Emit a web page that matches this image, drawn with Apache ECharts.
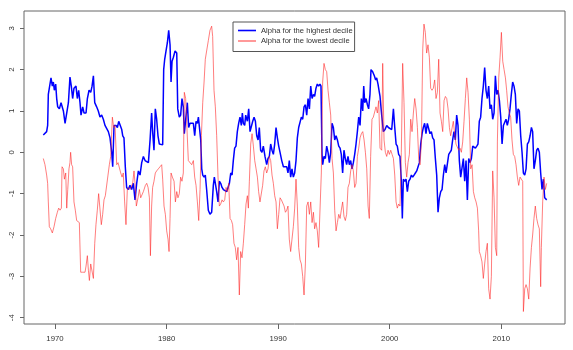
<!DOCTYPE html>
<html>
<head>
<meta charset="utf-8">
<script src="https://cdn.jsdelivr.net/npm/echarts@6/dist/echarts.min.js"></script>
<style>
html,body{margin:0;padding:0;background:#fff;}
#c{width:573px;height:350px;}
</style>
</head>
<body>
<div id="c"></div>
<script>
const seriesNames = ['Alpha for the highest decile', 'Alpha for the lowest decile'];
const xTicks = [1970, 1980, 1990, 2000, 2010];
const yTicks = [-4, -3, -2, -1, 0, 1, 2, 3];

const highYears = [
1968.95,1969.10,1969.25,1969.34,1969.40,1969.55,1969.64,1969.76,1969.85,1969.94,
1970.06,1970.15,1970.24,1970.39,1970.54,1970.75,1970.90,1971.05,1971.20,1971.34,
1971.46,1971.58,1971.70,1971.88,1972.00,1972.12,1972.24,1972.33,1972.48,1972.60,
1972.78,1972.90,1973.05,1973.20,1973.32,1973.44,1973.56,1973.73,1973.88,1974.03,
1974.18,1974.33,1974.48,1974.63,1974.78,1974.93,1975.08,1975.17,1975.29,1975.47,
1975.59,1975.71,1975.83,1975.98,1976.07,1976.18,1976.30,1976.42,1976.57,1976.72,
1976.87,1977.02,1977.17,1977.32,1977.47,1977.62,1977.77,1977.92,1978.07,1978.22,
1978.37,1978.52,1978.66,1978.75,1978.87,1978.99,1979.11,1979.23,1979.35,1979.50,
1979.65,1979.74,1979.83,1979.95,1980.07,1980.19,1980.31,1980.40,1980.49,1980.61,
1980.76,1980.91,1981.00,1981.14,1981.26,1981.38,1981.50,1981.59,1981.71,1981.86,
1981.98,
1982.10,1982.40,1982.52,1982.64,1982.76,1982.85,1982.94,1983.06,1983.15,1983.24,
1983.36,1983.47,1983.59,1983.74,1983.89,1984.04,1984.19,1984.28,1984.37,1984.49,
1984.61,1984.73,1984.85,1984.97,1985.09,1985.24,1985.39,1985.51,1985.63,1985.75,
1985.87,1985.98,1986.10,1986.22,1986.34,1986.46,1986.58,1986.70,1986.79,1986.88,
1987.00,1987.09,1987.24,1987.36,1987.48,1987.60,1987.72,1987.84,1987.96,1988.08,
1988.20,1988.31,1988.43,1988.55,1988.67,1988.82,1988.97,1989.09,1989.21,1989.33,
1989.45,1989.57,1989.69,1989.81,1989.93,1990.05,1990.17,1990.32,1990.47,1990.62,
1990.77,1990.88,1991.00,1991.12,1991.24,1991.36,1991.48,1991.60,1991.72,1991.84,
1991.96,1992.08,1992.20,1992.32,1992.44,1992.56,1992.68,1992.80,1992.92,1993.04,
1993.16,1993.27,1993.39,1993.51,1993.63,1993.75,1993.84,1993.93,1993.99,1994.11,
1994.23,1994.35,1994.47,1994.59,1994.71,1994.83,1994.95,1995.07,1995.19,1995.31,
1995.43,1995.55,1995.66,1995.78,1995.90,1996.02,1996.14,1996.26,1996.38,1996.50,
1996.62,1996.74,1996.86,1996.98,1997.10,1997.22,1997.34,1997.46,1997.58,1997.67,
1997.76,1997.88,1998.00,1998.11,1998.23,1998.32,1998.47,1998.62,1998.74,1998.83,
1998.95,1999.07,
1999.13,1999.28,1999.43,1999.58,1999.73,1999.88,2000.03,2000.18,2000.33,2000.45,
2000.57,2000.68,2000.80,2000.92,2001.04,2001.13,2001.22,2001.34,2001.46,2001.58,
2001.70,2001.82,2001.94,2002.06,2002.18,2002.30,2002.42,2002.54,2002.66,2002.78,
2002.90,2003.01,2003.13,2003.25,2003.37,2003.49,2003.61,2003.73,2003.85,2003.97,
2004.09,2004.21,2004.33,2004.45,2004.57,2004.69,2004.81,2004.93,2005.05,2005.17,
2005.29,2005.40,2005.52,2005.64,2005.76,2005.88,2006.00,2006.12,2006.24,2006.36,
2006.48,2006.60,2006.72,2006.84,2006.96,2007.08,2007.20,2007.32,2007.44,2007.56,
2007.68,2007.80,2007.91,2008.03,2008.15,2008.27,2008.39,2008.51,2008.63,2008.75,
2008.87,2008.99,2009.11,2009.23,2009.35,2009.47,2009.59,2009.71,2009.83,2009.95,
2010.07,2010.19,2010.31,2010.42,2010.54,2010.66,2010.78,2010.90,2011.02,2011.14,
2011.26,2011.38,2011.50,2011.62,2011.74,2011.86,2011.98,2012.10,2012.22,2012.34,
2012.46,2012.58,2012.70,2012.81,2012.93,2013.05,2013.17,2013.29,2013.41,2013.53,
2013.65,2013.77,2013.89,2014.07
];
const highAlpha = [
0.42,0.38,0.50,0.65,1.40,1.42,1.80,1.60,1.70,1.50,
1.65,1.30,1.10,1.05,1.20,1.00,0.70,0.72,1.20,1.82,
1.60,1.30,1.55,1.60,1.30,1.50,1.20,0.90,1.10,0.95,
0.95,1.30,1.50,1.45,1.60,1.85,1.20,1.10,1.00,0.85,
0.90,0.80,0.65,0.65,0.50,0.35,0.00,-0.35,0.65,0.65,
0.60,0.75,0.78,0.55,0.40,0.35,-0.35,-0.85,-0.90,-0.80,
-0.90,-0.75,-1.15,-0.75,-0.45,-0.55,-0.25,-0.10,-0.20,-0.22,
-0.25,0.30,0.95,0.50,0.05,1.05,0.80,0.40,0.20,0.20,
0.18,2.00,2.25,2.45,2.65,2.95,2.60,1.70,2.20,2.30,
2.45,2.40,1.05,0.85,0.90,1.30,1.10,0.45,0.45,1.20,
0.60,
0.70,0.70,0.40,0.75,0.70,0.85,0.85,0.30,-0.40,-0.55,
-0.60,-0.55,-0.90,-1.40,-1.50,-1.45,-0.80,-0.60,-0.60,-0.95,
-1.20,-0.70,-0.75,-0.85,-0.90,-0.90,-0.95,-0.85,-0.75,-0.50,
-0.55,-0.20,0.10,0.15,0.50,0.70,0.85,0.65,0.95,0.70,
0.65,0.90,0.75,1.05,0.50,0.50,0.75,0.85,0.75,0.40,
0.30,0.60,0.05,0.00,0.15,-0.10,-0.30,-0.15,-0.10,0.20,
0.05,-0.05,0.20,0.60,0.35,0.15,0.00,-0.20,-0.35,-0.35,
-0.35,-0.50,-0.20,-0.60,-0.40,-0.60,-0.50,-0.20,0.35,0.60,
0.60,0.85,0.80,1.10,1.15,0.90,1.30,1.05,1.60,1.30,
1.40,1.35,1.55,1.65,1.60,1.65,1.60,-0.05,-0.30,-0.10,
-0.15,0.15,0.00,-0.25,0.00,0.70,0.60,0.30,0.40,0.30,
0.15,0.10,-0.05,-0.50,0.05,-0.15,-0.30,-0.10,-0.30,-0.20,
-0.40,-0.25,-0.05,0.20,0.50,0.85,0.65,1.30,1.00,1.60,
1.20,1.30,1.15,1.05,1.40,2.00,1.95,1.85,1.75,1.80,
1.65,1.45,
1.35,0.90,0.50,0.55,0.65,0.60,0.60,0.55,1.05,0.60,
0.20,0.15,-0.05,-0.10,-0.70,-1.60,-0.65,-0.70,-0.65,-0.95,
-0.70,-0.65,-0.55,-0.60,-0.55,-0.50,-0.45,-0.35,-0.25,0.20,
0.45,0.60,0.70,0.45,0.70,0.70,0.45,0.50,0.35,0.30,
-0.15,-0.55,-1.45,-1.10,-0.95,-0.90,-0.55,-0.30,-0.50,-0.50,
-0.05,0.00,0.05,0.30,0.50,0.30,0.90,0.65,-0.20,-0.60,
-0.60,-0.15,-0.70,-0.20,-1.15,-0.15,-0.25,-0.15,0.15,0.15,
0.10,0.15,0.20,0.75,0.85,1.30,1.60,2.05,1.50,1.30,
1.60,1.05,1.15,0.80,0.95,1.85,1.40,1.50,1.25,0.85,
0.20,0.65,0.65,0.80,0.65,0.80,1.05,1.40,1.70,1.60,
1.40,0.70,1.05,1.00,0.40,0.00,-0.50,-0.55,-0.40,0.20,
0.25,0.40,0.60,0.50,-0.40,-0.20,0.05,0.10,0.00,-0.50,
-0.90,-0.65,-1.10,-1.15
];

const lowYears = [
1968.95,1969.10,1969.25,1969.34,1969.40,1969.49,1969.61,1969.76,1969.91,1970.06,
1970.21,1970.33,1970.45,1970.57,1970.63,1970.75,1970.84,1970.96,1971.05,1971.14,
1971.25,1971.34,1971.40,1971.49,1971.58,1971.70,1971.82,1971.94,1972.09,1972.18,
1972.30,1972.48,1972.69,1972.78,1972.90,1972.99,1973.08,1973.20,1973.32,1973.44,
1973.56,1973.67,1973.79,1973.91,1974.03,1974.15,1974.27,1974.39,1974.51,1974.63,
1974.75,1974.87,1974.99,1975.14,1975.26,1975.38,1975.53,1975.65,1975.77,1975.89,
1976.01,1976.12,1976.24,1976.36,1976.48,1976.60,1976.72,1976.84,1976.96,1977.08,
1977.17,1977.29,1977.44,1977.56,1977.68,1977.80,1977.92,1978.10,1978.22,1978.34,
1978.46,1978.55,1978.66,1978.75,1978.87,1978.99,1979.11,1979.26,1979.41,1979.56,
1979.65,1979.77,1979.89,1980.01,1980.13,1980.22,1980.31,1980.40,1980.52,1980.67,
1980.79,1980.91,1981.02,1981.14,1981.26,1981.38,1981.50,1981.59,1981.71,1981.80,
1981.95,
1982.10,1982.25,1982.40,1982.52,1982.64,1982.76,1982.88,1983.00,1983.12,1983.24,
1983.36,1983.47,1983.59,1983.74,1983.89,1984.04,1984.13,1984.25,1984.37,1984.49,
1984.61,1984.73,1984.85,1984.97,1985.09,1985.21,1985.33,1985.45,1985.57,1985.69,
1985.81,1985.92,1986.04,1986.16,1986.28,1986.40,1986.52,1986.64,1986.76,1986.88,
1987.00,1987.12,1987.24,1987.33,1987.42,1987.54,1987.66,1987.78,1987.90,1988.02,
1988.14,1988.25,1988.37,1988.49,1988.61,1988.73,1988.85,1988.97,1989.09,1989.21,
1989.33,1989.45,1989.57,1989.69,1989.81,1989.93,1990.05,1990.17,1990.29,1990.41,
1990.53,1990.65,1990.77,1990.88,1991.00,1991.12,1991.24,1991.36,1991.48,1991.60,
1991.72,1991.84,1991.96,1992.08,1992.20,1992.32,1992.44,1992.56,1992.68,1992.80,
1992.92,1993.04,1993.16,1993.27,1993.39,1993.51,1993.63,1993.75,1993.87,1993.99,
1994.11,1994.23,1994.35,1994.47,1994.59,1994.71,1994.83,1994.95,1995.07,1995.19,
1995.31,1995.43,1995.55,1995.66,1995.78,1995.90,1996.02,1996.14,1996.26,1996.38,
1996.50,1996.62,1996.74,1996.86,1996.98,1997.10,1997.22,1997.34,1997.46,1997.58,
1997.70,1997.82,1997.94,1998.06,1998.17,1998.29,1998.41,1998.53,1998.65,1998.77,
1998.89,1999.01,
1999.13,1999.28,1999.37,1999.49,1999.61,1999.73,1999.85,1999.97,2000.09,2000.21,
2000.33,2000.45,2000.57,2000.68,2000.80,2000.92,2001.04,2001.16,2001.28,2001.40,
2001.52,2001.64,2001.76,2001.88,2002.00,2002.12,2002.24,2002.36,2002.48,2002.60,
2002.72,2002.84,2002.96,2003.07,2003.19,2003.31,2003.43,2003.55,2003.67,2003.79,
2003.91,2004.03,2004.15,2004.27,2004.39,2004.51,2004.63,2004.75,2004.87,2004.99,
2005.11,2005.23,2005.35,2005.46,2005.58,2005.70,2005.82,2005.94,2006.06,2006.18,
2006.30,2006.42,2006.54,2006.66,2006.78,2006.90,2007.02,2007.14,2007.26,2007.38,
2007.50,2007.62,2007.74,2007.86,2007.97,2008.03,2008.15,2008.27,2008.39,2008.51,
2008.63,2008.75,2008.87,2008.99,2009.11,2009.23,2009.35,2009.47,2009.59,2009.65,
2009.77,2009.89,2010.01,2010.13,2010.25,2010.37,2010.48,2010.60,2010.72,2010.84,
2010.96,2011.08,2011.20,2011.32,2011.44,2011.56,2011.68,2011.80,2011.92,2011.98,
2012.10,2012.22,2012.34,2012.46,2012.58,2012.70,2012.81,2012.93,2013.05,2013.17,
2013.29,2013.41,2013.53,2013.59,2013.71,2013.83,2013.95,2014.07
];
const lowAlpha = [
-0.15,-0.30,-0.55,-0.75,-1.20,-1.80,-1.85,-1.95,-1.80,-1.60,
-1.45,-1.35,-1.40,-1.35,-0.35,-0.40,-0.65,-0.50,-1.35,-0.90,
-0.40,-0.25,0.00,-0.30,-0.35,-1.20,-1.40,-1.65,-1.65,-1.70,
-2.90,-2.90,-2.90,-2.75,-2.50,-2.85,-3.10,-2.70,-2.70,-3.05,
-2.20,-1.75,-1.40,-1.00,-1.00,-1.75,-1.50,-1.15,-1.05,-1.05,
-0.55,-0.30,-0.10,0.85,0.60,0.65,-0.30,-0.25,-0.25,-0.50,
-0.60,-0.50,-1.20,-1.75,-0.90,-0.85,-0.90,-0.90,-0.75,-0.45,
-0.75,-1.30,-1.10,-0.90,-1.10,-1.10,-0.95,-0.80,-0.75,-0.85,
-1.10,-2.50,-1.30,-0.85,-0.70,-0.50,-0.45,-0.40,-0.35,-0.30,
-0.65,-1.30,-1.50,-1.90,-2.10,-2.40,-1.60,-0.50,-0.60,-0.70,
-1.20,-0.95,-1.10,-1.00,-0.60,-0.70,-0.50,1.45,1.30,1.30,
-0.20,
-0.20,-0.30,-0.20,-0.60,-0.80,-1.20,-1.65,-0.90,0.40,1.20,
1.70,2.25,2.45,2.70,2.95,3.05,2.80,1.50,1.10,0.40,
-0.60,-1.30,-1.25,-1.15,-1.20,-1.15,-0.85,-0.95,-0.75,-1.60,
-1.65,-1.75,-2.20,-2.30,-2.60,-2.30,-3.45,-2.40,-2.55,-2.20,
-1.75,-1.25,-1.05,-1.35,-0.70,0.20,0.45,0.15,-0.20,-0.40,
-0.60,-0.95,-1.20,-1.20,-0.80,-0.45,-0.35,-0.50,-0.40,-0.10,
-0.20,-0.55,-0.75,-1.05,-1.20,-1.85,-1.50,-1.10,-1.15,-1.15,
-1.30,-1.45,-1.40,-1.30,-2.10,-2.40,-2.10,-1.80,-1.35,-0.65,
-1.30,-2.30,-2.60,-2.70,-3.00,-3.45,-2.70,-1.30,-1.20,-1.50,
-1.20,-1.70,-1.45,-1.85,-1.70,-1.90,-2.30,-2.30,-0.50,1.70,
2.15,2.00,1.95,1.50,1.20,0.90,-0.15,-0.50,-1.40,-1.90,
-1.70,-1.50,-1.60,-1.40,-1.20,-1.55,-1.65,-1.50,-0.85,-0.75,
-0.45,-0.30,-0.45,-0.85,-0.75,-0.10,0.10,0.35,0.45,0.50,
0.30,0.00,-0.40,-1.30,-1.60,-0.10,0.80,0.85,0.85,1.10,
0.95,1.25,
0.10,0.05,2.15,0.30,0.00,-0.10,0.05,-0.05,0.05,-0.05,
-0.15,-0.55,-1.20,-1.35,-1.25,-1.30,0.00,2.15,1.20,-0.25,
-0.60,-0.25,-0.05,0.80,0.50,0.95,1.30,1.05,0.60,-0.15,
-0.30,0.25,2.50,3.10,2.90,2.40,2.60,2.30,1.55,1.50,
1.55,1.75,1.30,1.45,2.25,0.95,0.75,0.50,1.25,1.35,
1.30,1.05,0.60,0.40,0.40,0.75,0.45,0.20,0.20,0.05,
0.10,0.00,0.25,0.75,1.30,1.80,1.45,0.80,-0.40,-0.30,
-0.95,-1.10,-1.20,-1.35,-1.90,-2.40,-2.50,-2.65,-3.05,-2.70,
-2.40,-2.20,-3.30,-3.55,-3.00,-0.45,-1.10,-2.30,-2.50,0.25,
1.80,2.30,2.90,2.20,2.00,1.80,1.50,1.10,0.95,0.85,
0.30,-0.05,-0.10,-0.30,-0.60,-0.80,-0.60,-0.65,-0.70,-3.85,
-3.30,-3.20,-3.30,-3.55,-2.80,-2.30,-2.00,-1.60,-1.30,-1.60,
-1.75,-1.85,-3.25,-2.30,-1.20,-0.60,-0.90,-0.75
];

function zip(xs, ys) { return xs.map((x, i) => [x, ys[i]]); }

const chart = echarts.init(document.getElementById('c'), null, { renderer: 'canvas' });
const font = 'Liberation Sans, Arial, Helvetica, sans-serif';
const blue = '#0000ff';
const red = 'rgba(255,40,40,0.6)';
chart.setOption({
  animation: false,
  backgroundColor: '#ffffff',
  grid: {
    left: 24, top: 11, width: 541, height: 313,
    show: true, borderColor: '#666666', borderWidth: 1, backgroundColor: 'transparent'
  },
  legend: {
    orient: 'vertical',
    left: 233, top: 22,
    padding: [4, 2, 6, 5],
    itemWidth: 18, itemHeight: 1.6, itemGap: 1.5,
    icon: 'rect',
    borderColor: '#555555', borderWidth: 1, borderRadius: 0,
    backgroundColor: '#ffffff',
    textStyle: { fontFamily: font, fontSize: 7.6, color: '#333333', lineHeight: 9 },
    data: seriesNames
  },
  xAxis: {
    type: 'value', min: 1967.22, max: 2015.71,
    axisLine: { show: false, onZero: false },
    splitLine: { show: false },
    axisTick: { show: true, length: 5, customValues: xTicks, lineStyle: { color: '#666666' } },
    axisLabel: { customValues: xTicks, margin: 11, fontFamily: font, fontSize: 7.8, color: '#333333',
      formatter: v => String(v) }
  },
  yAxis: {
    type: 'value', min: -4.152, max: 3.417,
    axisLine: { show: false, onZero: false },
    splitLine: { show: false },
    axisTick: { show: true, length: 4, customValues: yTicks, lineStyle: { color: '#666666' } },
    axisLabel: { customValues: yTicks, rotate: 90, margin: 8, fontFamily: font, fontSize: 7.8, color: '#333333',
      formatter: v => String(v) }
  },
  series: [
    {
      name: seriesNames[0], type: 'line', data: zip(highYears, highAlpha),
      symbol: 'none', showSymbol: false, z: 2,
      lineStyle: { color: blue, width: 1.5 }, itemStyle: { color: blue }
    },
    {
      name: seriesNames[1], type: 'line', data: zip(lowYears, lowAlpha),
      symbol: 'none', showSymbol: false, z: 3,
      lineStyle: { color: red, width: 1 }, itemStyle: { color: red }
    }
  ]
});
</script>
</body>
</html>
